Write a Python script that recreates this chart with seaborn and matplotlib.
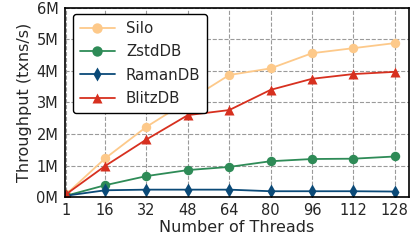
import pandas as pd
import matplotlib.pyplot as plt
import matplotlib.ticker as mticker
import seaborn as sns

# --- Data (throughput in millions of txns/s) ---
threads = [1, 16, 32, 48, 64, 80, 96, 112, 128]
silo = [0.10, 1.23, 2.23, 3.05, 3.87, 4.08, 4.56, 4.72, 4.88]
zstddb = [0.05, 0.38, 0.67, 0.86, 0.96, 1.14, 1.21, 1.22, 1.29]
ramandb = [0.05, 0.22, 0.24, 0.24, 0.24, 0.19, 0.19, 0.19, 0.18]
blitzdb = [0.10, 0.99, 1.83, 2.60, 2.76, 3.40, 3.75, 3.90, 3.97]

systems = ["Silo", "ZstdDB", "RamanDB", "BlitzDB"]
colors = {"Silo": "#fdc98a", "ZstdDB": "#2e8b57", "RamanDB": "#0b4a78", "BlitzDB": "#d7301f"}
markers = {"Silo": "o", "ZstdDB": "o", "RamanDB": "d", "BlitzDB": "^"}

rows = []
for name, vals in zip(systems, [silo, zstddb, ramandb, blitzdb]):
    for t, v in zip(threads, vals):
        rows.append({"threads": t, "tput": v * 1e6, "system": name})
df = pd.DataFrame(rows)

# --- Plot ---
sns.set_style("whitegrid", {"grid.linestyle": "--", "grid.color": "#9a9a9a",
                            "axes.edgecolor": "black"})
fig, ax = plt.subplots(figsize=(4.11, 2.42), dpi=100)

sns.lineplot(data=df, x="threads", y="tput", hue="system", style="system",
             hue_order=systems, style_order=systems, palette=colors,
             markers=markers, dashes=False, markersize=6.8, linewidth=1.3,
             markeredgecolor="none", ax=ax)

ax.set_xlim(0.3, 133.5)
ax.set_ylim(0, 6e6)
ax.set_xticks(threads)
ax.set_yticks([i * 1e6 for i in range(7)])
ax.yaxis.set_major_formatter(mticker.FuncFormatter(lambda v, p: f"{int(round(v / 1e6))}M"))
ax.tick_params(axis="both", labelsize=10.5, pad=1)
ax.set_xlabel("Number of Threads", fontsize=11.5, labelpad=1)
ax.set_ylabel("Throughput (txns/s)", fontsize=11.5, labelpad=3)
for s in ax.spines.values():
    s.set_color("black")
    s.set_linewidth(1.2)

leg = ax.legend(loc="upper left", fontsize=10.8, frameon=True, framealpha=1,
                edgecolor="black", handlelength=2.3, handletextpad=0.75,
                borderpad=0.45, labelspacing=0.55, markerscale=1.1,
                borderaxespad=0, bbox_to_anchor=(0.026, 0.965))
leg.get_frame().set_linewidth(1.0)

plt.subplots_adjust(left=0.157, right=0.995, top=0.968, bottom=0.185)
plt.savefig("out.png", dpi=100)
